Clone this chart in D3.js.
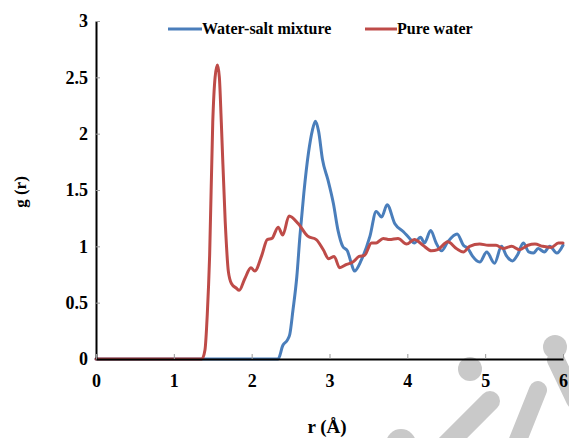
<!DOCTYPE html>
<html>
<head>
<meta charset="utf-8">
<script src="https://cdn.jsdelivr.net/npm/d3@7"></script>
<style>
  html, body { margin: 0; padding: 0; background: #fff; }
  svg { display: block; }
  svg text { font-family: "Times New Roman", "Liberation Serif", Tinos, "DejaVu Serif", serif; font-weight: bold; fill: #000; }
</style>
</head>
<body>
<svg id="chart" width="569" height="438"></svg>
<script>
// Radial distribution functions g(r)
const waterR = [0, 1.36, 1.40, 1.43, 1.46, 1.50, 1.53, 1.56, 1.585, 1.61, 1.66, 1.70, 1.74, 1.80, 1.84,
  1.91, 1.99, 2.04, 2.13, 2.20, 2.26, 2.34, 2.40, 2.48, 2.60, 2.72, 2.83, 2.92, 2.99, 3.06, 3.13,
  3.22, 3.30, 3.38, 3.45, 3.54, 3.60, 3.69, 3.77, 3.88, 3.99, 4.09, 4.20, 4.31, 4.39, 4.52, 4.63,
  4.72, 4.80, 4.93, 5.04, 5.14, 5.23, 5.34, 5.44, 5.55, 5.64, 5.74, 5.85, 5.94, 6.00];
const waterG = [0, 0, 0.08, 0.40, 0.92, 2.10, 2.50, 2.61, 2.50, 2.10, 1.22, 0.78, 0.67, 0.63, 0.61,
  0.71, 0.81, 0.78, 0.92, 1.06, 1.07, 1.17, 1.10, 1.27, 1.20, 1.09, 1.06, 0.97, 0.89, 0.91, 0.81,
  0.84, 0.86, 0.91, 0.92, 1.03, 1.03, 1.07, 1.06, 1.07, 1.02, 1.06, 1.01, 0.96, 0.97, 1.04, 0.98,
  0.95, 1.00, 1.02, 1.01, 1.01, 0.98, 1.00, 0.97, 1.01, 1.02, 1.00, 0.99, 1.03, 1.03];

const mixtureR = [0, 2.34, 2.40, 2.46, 2.49, 2.53, 2.58, 2.62, 2.67, 2.73, 2.78, 2.82, 2.86, 2.91,
  2.98, 3.05, 3.11, 3.17, 3.23, 3.28, 3.32, 3.41, 3.52, 3.60, 3.67, 3.74, 3.84, 3.95, 4.03, 4.09,
  4.17, 4.22, 4.30, 4.37, 4.44, 4.52, 4.64, 4.72, 4.78, 4.84, 4.93, 5.02, 5.12, 5.21, 5.27, 5.35,
  5.42, 5.49, 5.56, 5.62, 5.68, 5.76, 5.83, 5.92, 6.00];
const mixtureG = [0, 0, 0.12, 0.17, 0.22, 0.43, 0.73, 1.09, 1.47, 1.83, 2.03, 2.11, 2.02, 1.77,
  1.59, 1.38, 1.14, 1.00, 0.96, 0.85, 0.78, 0.88, 1.09, 1.31, 1.26, 1.37, 1.20, 1.13, 1.07, 1.03,
  1.08, 1.03, 1.14, 1.03, 0.96, 1.04, 1.11, 1.01, 0.98, 0.91, 0.86, 0.95, 0.85, 1.00, 0.92, 0.87,
  0.93, 1.03, 0.95, 0.94, 0.98, 0.95, 1.00, 0.94, 1.01];

const xTicks = [0, 1, 2, 3, 4, 5, 6];
const yTicks = [0, 0.5, 1, 1.5, 2, 2.5, 3];

const seriesNames = ["Water-salt mixture", "Pure water"];
const seriesColors = ["#4a7ebb", "#be4b48"];

const FONT = "'Times New Roman', 'Liberation Serif', Tinos, 'DejaVu Serif', serif";

const svg = d3.select("#chart");

// faint grey stamp in the lower right corner, under the chart
const stamp = svg.append("g").attr("fill", "#c9c9c9").attr("stroke", "#c9c9c9")
  .attr("stroke-linecap", "round");
stamp.append("circle").attr("cx", 470).attr("cy", 369).attr("r", 12).attr("stroke", "none");
stamp.append("circle").attr("cx", 555).attr("cy", 347).attr("r", 12).attr("stroke", "none");
stamp.append("circle").attr("cx", 401).attr("cy", 444).attr("r", 15).attr("stroke", "none");
stamp.append("line").attr("x1", 446).attr("y1", 445).attr("x2", 490).attr("y2", 401).attr("stroke-width", 20);
stamp.append("line").attr("x1", 516).attr("y1", 445).attr("x2", 538).attr("y2", 390).attr("stroke-width", 18);
stamp.append("line").attr("x1", 556).attr("y1", 360).attr("x2", 575).attr("y2", 400).attr("stroke-width", 18);

const x = d3.scaleLinear().domain([0, 6]).range([96, 563]);
const y = d3.scaleLinear().domain([0, 3]).range([359, 21]);

const line = d3.line()
  .x(d => x(d[0]))
  .y(d => y(d[1]))
  .curve(d3.curveMonotoneX);

const series = [
  { name: seriesNames[0], color: seriesColors[0], pts: d3.zip(mixtureR, mixtureG) },
  { name: seriesNames[1], color: seriesColors[1], pts: d3.zip(waterR, waterG) }
];

// mixture first, pure water over it
svg.append("g").selectAll("path")
  .data(series)
  .join("path")
  .attr("d", d => line(d.pts))
  .attr("fill", "none")
  .attr("stroke", d => d.color)
  .attr("stroke-width", 3)
  .attr("stroke-linejoin", "round")
  .attr("stroke-linecap", "round");

// axes
const yAxis = svg.append("g")
  .attr("transform", `translate(${x(0)},0)`)
  .call(d3.axisLeft(y).tickValues(yTicks).tickFormat(d3.format("")).tickSizeInner(-4).tickSizeOuter(0).tickPadding(8));

const xAxis = svg.append("g")
  .attr("transform", `translate(0,${y(0)})`)
  .call(d3.axisBottom(x).tickValues(xTicks).tickFormat(d3.format("d")).tickSizeInner(-5).tickSizeOuter(0).tickPadding(15));

[yAxis, xAxis].forEach(g => {
  g.attr("font-family", FONT).attr("font-size", 18);
  g.select(".domain").attr("stroke", "#000").attr("stroke-width", 2);
  g.selectAll(".tick line").attr("stroke", "#999").attr("stroke-width", 1);
  g.selectAll(".tick text")
    .style("font-family", FONT)
    .style("font-weight", "bold")
    .attr("fill", "#000");
});

// axis titles
svg.append("text")
  .attr("x", 327)
  .attr("y", 433)
  .attr("text-anchor", "middle")
  .style("font-size", "19px")
  .text("r (Å)");

svg.append("text")
  .attr("transform", "translate(26,192) rotate(-90)")
  .attr("text-anchor", "middle")
  .style("font-size", "17px")
  .text("g (r)");

// legend
const legendItems = [
  { name: seriesNames[0], color: seriesColors[0], x0: 168, x1: 202 },
  { name: seriesNames[1], color: seriesColors[1], x0: 365, x1: 397 }
];
const legend = svg.append("g");
legendItems.forEach(d => {
  legend.append("line")
    .attr("x1", d.x0).attr("x2", d.x1)
    .attr("y1", 29).attr("y2", 29)
    .attr("stroke", d.color).attr("stroke-width", 3);
  legend.append("text")
    .attr("x", d.x1)
    .attr("y", 34)
    .style("font-size", "16px")
    .text(d.name);
});
</script>
</body>
</html>
